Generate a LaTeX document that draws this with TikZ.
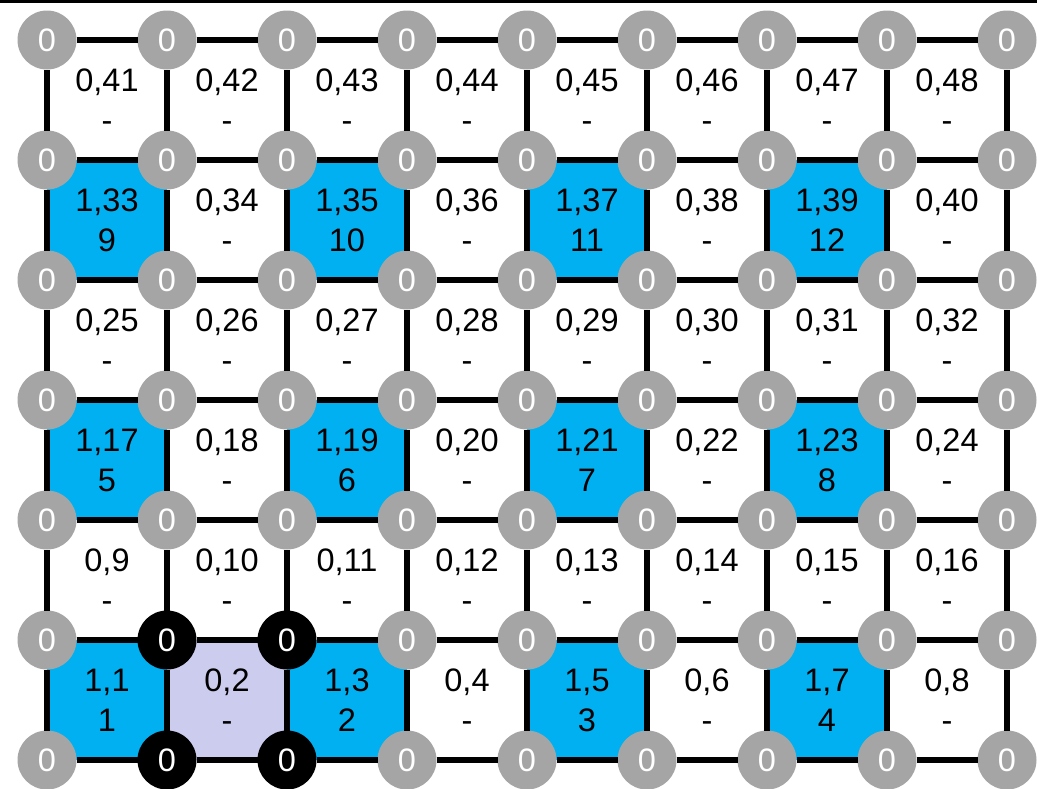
\documentclass[tikz,border=0pt]{standalone}
\usepackage{fontspec}
\setmainfont{Liberation Sans}
\definecolor{cellblue}{HTML}{00B0F0}
\definecolor{celllav}{HTML}{CCCCEE}
\definecolor{vgray}{HTML}{A5A5A5}
\tikzset{
  vtx/.style={circle, minimum size=59pt, inner sep=0pt, outer sep=0pt, text=white},
  gridline/.style={line width=6pt, black},
  cellt/.style={align=center, inner sep=0pt, text=black},
}
\begin{document}
\begin{tikzpicture}[x=1pt, y=-1pt, font=\fontsize{32.5}{40}\selectfont]
\useasboundingbox (0,0) rectangle (1037,788);
\clip (0,0) rectangle (1037,788);
% top border line
\coordinate (tl) at (0,1.5);
\coordinate (tr) at (1037,1.5);
\draw[line width=3pt] (tl) -- (tr);
% cell fills
\foreach \c/\r in {0/0,2/0,4/0,6/0,0/2,2/2,4/2,6/2,0/4,2/4,4/4,6/4}{
  \fill[cellblue] (47+120*\c, 760-120*\r) rectangle ++(120,-120);
}
\fill[celllav] (167,760) rectangle ++(120,-120);
% vertices
\foreach \i in {0,...,8}{
  \foreach \j in {0,...,6}{
    \def\vc{vgray}
    \ifnum\j<2 \ifnum\i>0 \ifnum\i<3 \def\vc{black}\fi\fi\fi
    \node[vtx, fill=\vc] (v-\i-\j) at (47+120*\i, 760-120*\j) {0};
  }
}
% grid lines
\foreach \i [evaluate=\i as \ii using int(\i+1)] in {0,...,7}{
  \foreach \j in {0,...,6}{
    \draw[gridline] (v-\i-\j) -- (v-\ii-\j);
  }
}
\foreach \i in {0,...,8}{
  \foreach \j [evaluate=\j as \jj using int(\j+1)] in {0,...,5}{
    \draw[gridline] (v-\i-\j) -- (v-\i-\jj);
  }
}
% cell labels
\foreach \n in {1,...,48}{
  \pgfmathtruncatemacro\c{mod(\n-1,8)}
  \pgfmathtruncatemacro\r{int((\n-1)/8)}
  \pgfmathtruncatemacro\on{(mod(\r,2)==0)*(mod(\c,2)==0)}
  \pgfmathtruncatemacro\k{int(\r/2)*4+int(\c/2)+1}
  \ifnum\on=1 \def\lab{1,\n\\\k}\else\def\lab{0,\n\\-}\fi
  \node[cellt] (c-\n) at (107+120*\c, 700-120*\r) {\lab};
}
\end{tikzpicture}
\end{document}
